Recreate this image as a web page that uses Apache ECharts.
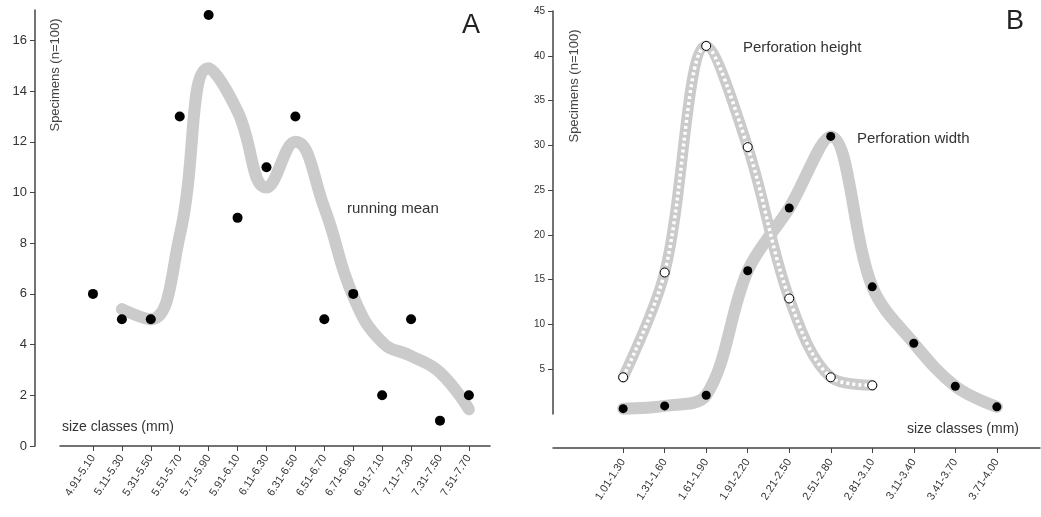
<!DOCTYPE html>
<html>
<head>
<meta charset="utf-8">
<script src="https://cdn.jsdelivr.net/npm/echarts@6/dist/echarts.min.js"></script>
<style>
  html, body { margin: 0; padding: 0; background: #fff; }
  #chart { width: 1041px; height: 517px; }
</style>
</head>
<body>
<div id="chart"></div>
<script>
// panel A - length classes
var classesA = ['4.91-5.10', '5.11-5.30', '5.31-5.50', '5.51-5.70', '5.71-5.90', '5.91-6.10', '6.11-6.30',
                '6.31-6.50', '6.51-6.70', '6.71-6.90', '6.91-7.10', '7.11-7.30', '7.31-7.50', '7.51-7.70'];
var countsA = [6, 5, 5, 13, 17, 9, 11, 13, 5, 6, 2, 5, 1, 2];
var meanA = [null, 5.4, 5.0, 8.3, 14.9, 13.2, 10.2, 12.0, 9.4, 5.9, 4.1, 3.55, 2.9, 1.45];
var ticksA = [0, 2, 4, 6, 8, 10, 12, 14, 16];

// panel B - perforation classes
var classesB = ['1.01-1.30', '1.31-1.60', '1.61-1.90', '1.91-2.20', '2.21-2.50',
                '2.51-2.80', '2.81-3.10', '3.11-3.40', '3.41-3.70', '3.71-4.00'];
var widthB = [0.6, 0.9, 2.1, 16, 23, 31, 14.2, 7.9, 3.1, 0.8];
var heightB = [4.1, 15.8, 41.1, 29.8, 12.9, 4.1, 3.2];
var ticksB = [5, 10, 15, 20, 25, 30, 35, 40, 45];

var font = 'Liberation Sans, Arial, sans-serif';
var grey = '#cbcbcb';
var axisCol = '#444';

function pairs(arr) {
    var out = [];
    arr.forEach(function (v, i) { if (v !== null) out.push([i, v]); });
    return out;
}
function idx(arr) { return arr.map(function (c, i) { return i; }); }

var chart = echarts.init(document.getElementById('chart'));
var option = {
    backgroundColor: '#fff',
    animation: false,
    grid: [
        {left: 60, right: 551, top: 10, bottom: 71},
        {left: 553, right: 1, top: 11, bottom: 103}
    ],
    xAxis: [
        {
            gridIndex: 0, type: 'value', min: -1.14, max: 13.73,
            splitLine: {show: false},
            axisLine: {onZero: false, lineStyle: {color: axisCol, width: 1.5}},
            axisTick: {customValues: idx(classesA), length: 5, lineStyle: {color: axisCol}},
            axisLabel: {
                customValues: idx(classesA), rotate: 57, fontSize: 11, color: '#333', fontFamily: font, margin: 10,
                formatter: function (v) { return classesA[v]; }
            }
        },
        {
            gridIndex: 1, type: 'value', min: -1.69, max: 10.04, offset: 34,
            splitLine: {show: false},
            axisLine: {onZero: false, lineStyle: {color: axisCol, width: 1.5}},
            axisTick: {customValues: idx(classesB), length: 5, lineStyle: {color: axisCol}},
            axisLabel: {
                customValues: idx(classesB), rotate: 57, fontSize: 11, color: '#333', fontFamily: font, margin: 12,
                formatter: function (v) { return classesB[v]; }
            }
        }
    ],
    yAxis: [
        {
            gridIndex: 0, type: 'value', min: 0, max: 17.2, offset: 25,
            splitLine: {show: false},
            axisLine: {show: true, onZero: false, lineStyle: {color: axisCol, width: 1.5}},
            axisTick: {show: true, customValues: ticksA, length: 5, lineStyle: {color: axisCol}},
            axisLabel: {customValues: ticksA, fontSize: 13, color: '#333', fontFamily: font, margin: 8}
        },
        {
            gridIndex: 1, type: 'value', min: 0, max: 45,
            splitLine: {show: false},
            axisLine: {show: true, onZero: false, lineStyle: {color: axisCol, width: 1.5}},
            axisTick: {show: true, customValues: ticksB, length: 5, lineStyle: {color: axisCol}},
            axisLabel: {customValues: ticksB, fontSize: 10, color: '#333', fontFamily: font, margin: 8}
        }
    ],
    series: [
        {   // running mean
            type: 'line', xAxisIndex: 0, yAxisIndex: 0, data: pairs(meanA),
            smooth: 0.45, showSymbol: false, z: 1,
            lineStyle: {color: grey, width: 12, cap: 'round', join: 'round'}
        },
        {
            type: 'scatter', xAxisIndex: 0, yAxisIndex: 0, data: pairs(countsA),
            symbolSize: 10, z: 5, itemStyle: {color: '#000', opacity: 1}
        },
        {   // perforation width
            type: 'line', xAxisIndex: 1, yAxisIndex: 1, data: pairs(widthB),
            smooth: 0.35, symbol: 'circle', symbolSize: 9, z: 2,
            itemStyle: {color: '#000'},
            lineStyle: {color: grey, width: 12, cap: 'round', join: 'round'}
        },
        {   // perforation height - grey band
            type: 'line', xAxisIndex: 1, yAxisIndex: 1, data: pairs(heightB),
            smooth: 0.35, showSymbol: false, z: 1,
            lineStyle: {color: grey, width: 11, cap: 'round', join: 'round'}
        },
        {   // perforation height - white dashes + open circles
            type: 'line', xAxisIndex: 1, yAxisIndex: 1, data: pairs(heightB),
            smooth: 0.35, symbol: 'circle', symbolSize: 9, z: 3,
            itemStyle: {color: '#fff', borderColor: '#000', borderWidth: 1},
            lineStyle: {color: '#fff', width: 3.5, type: [3, 3]}
        }
    ],
    graphic: [
        {type: 'text', left: 462, top: 12, style: {text: 'A', font: '27px ' + font, fill: '#222'}},
        {type: 'text', left: 1006, top: 8, style: {text: 'B', font: '27px ' + font, fill: '#222'}},
        {type: 'text', left: 347, top: 201, style: {text: 'running mean', font: '15px ' + font, fill: '#333'}},
        {type: 'text', left: 62, top: 420, style: {text: 'size classes (mm)', font: '14px ' + font, fill: '#333'}},
        {type: 'text', left: 907, top: 422, style: {text: 'size classes (mm)', font: '14px ' + font, fill: '#333'}},
        {type: 'text', left: 743, top: 40, style: {text: 'Perforation height', font: '15px ' + font, fill: '#333'}},
        {type: 'text', left: 857, top: 131, style: {text: 'Perforation width', font: '15px ' + font, fill: '#333'}},
        {type: 'text', x: 55, y: 75, rotation: Math.PI / 2,
         style: {text: 'Specimens (n=100)', font: '13px ' + font, fill: '#444', align: 'center', verticalAlign: 'middle'}},
        {type: 'text', x: 574, y: 86, rotation: Math.PI / 2,
         style: {text: 'Specimens (n=100)', font: '13px ' + font, fill: '#444', align: 'center', verticalAlign: 'middle'}}
    ]
};
chart.setOption(option);
</script>
</body>
</html>
